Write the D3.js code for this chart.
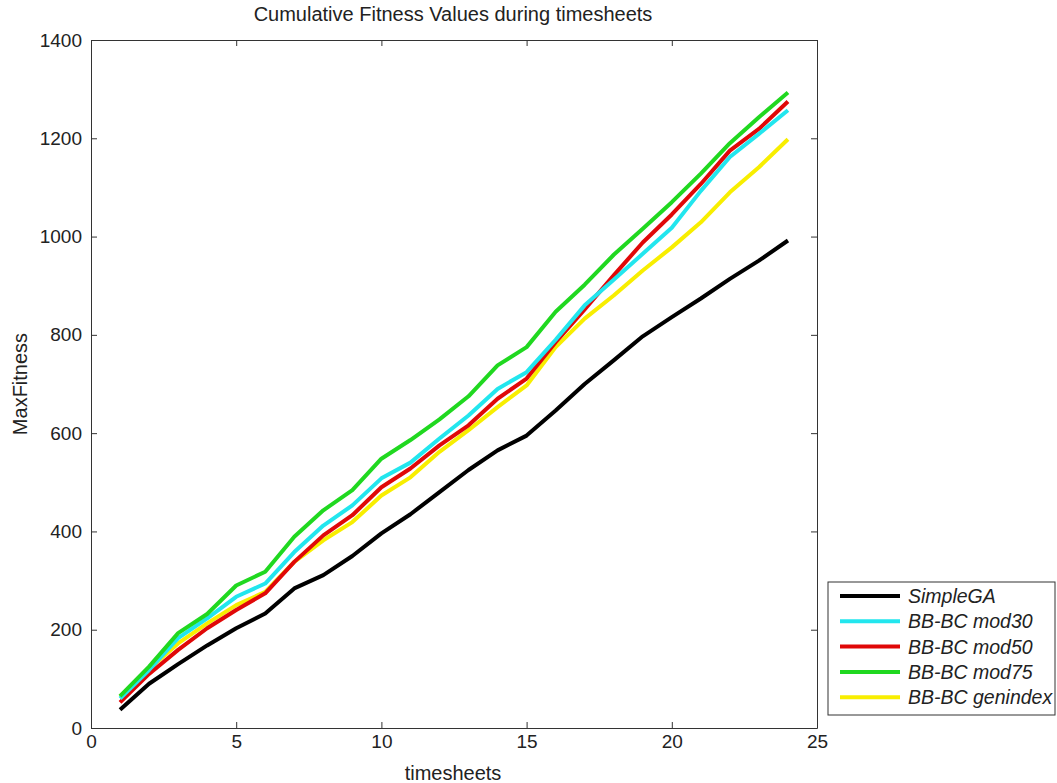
<!DOCTYPE html>
<html>
<head>
<meta charset="utf-8">
<script src="https://cdn.jsdelivr.net/npm/d3@7"></script>
<style>
body{margin:0;background:#fff;}
text{font-family:"Liberation Sans",Arial,sans-serif;fill:#222;}
</style>
</head>
<body>
<div id="chart"></div>
<script>
const steps = d3.range(1, 25);
const simpleGA = [37,90,130,168,203,233,284,311,350,396,435,480,525,565,595,646,700,748,797,836,874,914,951,992];
const mod30 = [60,118,183,223,267,294,358,412,453,508,540,589,636,690,724,790,860,912,965,1018,1093,1162,1209,1257];
const mod50 = [52,110,159,203,240,274,338,392,433,490,528,575,616,670,711,785,852,921,988,1045,1107,1175,1219,1275];
const mod75 = [65,125,193,232,290,318,389,443,484,548,586,628,675,738,775,847,902,963,1016,1070,1128,1190,1243,1293];
const genindex = [64,120,172,213,250,277,338,382,419,473,510,562,606,653,697,775,833,880,931,978,1029,1090,1141,1198];
const xTicks = [0,5,10,15,20,25];
const yTicks = [0,200,400,600,800,1000,1200,1400];

const series = [
  {name:'SimpleGA', values:simpleGA, color:'#000000'},
  {name:'BB-BC mod30', values:mod30, color:'#22e6ee'},
  {name:'BB-BC mod50', values:mod50, color:'#e00808'},
  {name:'BB-BC mod75', values:mod75, color:'#20d820'},
  {name:'BB-BC genindex', values:genindex, color:'#f8ee00'}
];
// draw order: black, yellow, red, cyan, green on top roughly
const drawOrder = [0,4,2,1,3];

const margin = {top:40, left:91};
const width = 726, height = 688;

const svg = d3.select('#chart').append('svg')
  .attr('width',1057).attr('height',783);
const g = svg.append('g').attr('transform',`translate(${margin.left},${margin.top})`);

const x = d3.scaleLinear().domain([0,25]).range([0,width]);
const y = d3.scaleLinear().domain([0,1400]).range([height,0]);

// box + inward ticks, matlab style
const ax = (gen, tr) => {
  const a = g.append('g').attr('transform',tr).call(gen);
  a.select('.domain').attr('stroke','#333');
  a.selectAll('.tick line').attr('stroke','#333');
  a.selectAll('text').style('font-size','19px').attr('fill','#222');
  return a;
};
ax(d3.axisBottom(x).tickValues(xTicks).tickSizeInner(-6).tickSizeOuter(0).tickPadding(7), `translate(0,${height})`);
ax(d3.axisLeft(y).tickValues(yTicks).tickFormat(d3.format('d')).tickSizeInner(-6).tickSizeOuter(0).tickPadding(9), null);
ax(d3.axisTop(x).tickValues(xTicks).tickSizeInner(-6).tickSizeOuter(0).tickFormat(''), null);
ax(d3.axisRight(y).tickValues(yTicks).tickSizeInner(-6).tickSizeOuter(0).tickFormat(''), `translate(${width},0)`);

const line = d3.line()
  .x((d,i) => x(steps[i]))
  .y(d => y(d));

drawOrder.forEach(i => {
  g.append('path')
    .datum(series[i].values)
    .attr('fill','none')
    .attr('stroke',series[i].color)
    .attr('stroke-width',4)
    .attr('stroke-linejoin','round')
    .attr('d',line);
});

// titles
svg.append('text').attr('x',453).attr('y',21).attr('text-anchor','middle')
  .style('font-size','20px').text('Cumulative Fitness Values during timesheets');
svg.append('text').attr('x',453).attr('y',780).attr('text-anchor','middle')
  .style('font-size','20px').text('timesheets');
svg.append('text').attr('transform','translate(27,384) rotate(-90)').attr('text-anchor','middle')
  .style('font-size','20px').text('MaxFitness');

// legend
const lg = svg.append('g').attr('transform','translate(828,582)');
lg.append('rect').attr('width',227).attr('height',133)
  .attr('fill','#fff').attr('stroke','#333');
series.forEach((s,i) => {
  const yy = 14 + i*25.3;
  lg.append('line').attr('x1',12).attr('x2',72).attr('y1',yy).attr('y2',yy)
    .attr('stroke',s.color).attr('stroke-width',4);
  lg.append('text').attr('x',80).attr('y',yy+7)
    .style('font-size','19.5px').style('font-style','italic').text(s.name);
});
</script>
</body>
</html>
